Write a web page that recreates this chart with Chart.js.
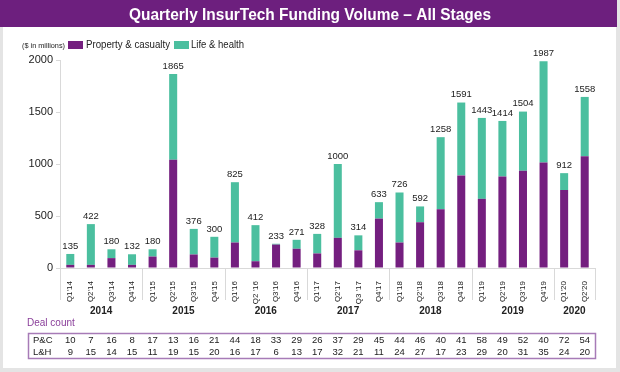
<!DOCTYPE html>
<html>
<head>
<meta charset="utf-8">
<script src="https://cdn.jsdelivr.net/npm/chart.js@4.4.0/dist/chart.umd.min.js"></script>
<style>
  html, body { margin: 0; padding: 0; background: #fff; }
  #wrap { position: relative; width: 620px; height: 372px; }
</style>
</head>
<body>
<div id="wrap"><canvas id="fundingChart" width="620" height="372"></canvas></div>
<script>
// Quarter labels, year groups
const quarters = ["Q1'14", "Q2'14", "Q3'14", "Q4'14", "Q1'15", "Q2'15", "Q3'15", "Q4'15",
  "Q1'16", "Q2 '16", "Q3'16", "Q4'16", "Q1'17", "Q2'17", "Q3 '17", "Q4'17",
  "Q1'18", "Q2'18", "Q3'18", "Q4'18", "Q1'19", "Q2'19", "Q3'19", "Q4'19", "Q1'20", "Q2'20"];
const years = ['2014', '2015', '2016', '2017', '2018', '2019', '2020'];
const quartersPerYear = [4, 4, 4, 4, 4, 4, 2];

// Funding volume ($ in millions)
const pcFunding = [30, 30, 95, 30, 110, 1040, 130, 100, 245, 65, 225, 185, 140, 290, 170, 475,
  245, 440, 565, 890, 665, 880, 935, 1015, 750, 1075];
const lhFunding = [105, 392, 85, 102, 70, 825, 246, 200, 580, 347, 8, 86, 188, 710, 144, 158,
  481, 152, 693, 701, 778, 534, 569, 972, 162, 570];
const totalLabels = [135, 422, 180, 132, 180, 1865, 376, 300, 825, 412, 233, 271, 328, 1000, 314, 633,
  726, 592, 1258, 1591, 1443, 1414, 1504, 1987, 912, 1558];

// Deal count
const pcDeals = [10, 7, 16, 8, 17, 13, 16, 21, 44, 18, 33, 29, 26, 37, 29, 45, 44, 46, 40, 41, 58, 49, 52, 40, 72, 54];
const lhDeals = [9, 15, 14, 15, 11, 19, 15, 20, 16, 17, 6, 13, 17, 32, 21, 11, 24, 27, 17, 23, 29, 20, 31, 35, 24, 20];

const PURPLE = '#741f7f';
const TEAL = '#4bbf9f';
const FONT = '"Liberation Sans", Arial, sans-serif';

// draw text squeezed into a given width if it is wider
function fitText(ctx, text, x, y, maxW) {
  const w = ctx.measureText(text).width;
  ctx.save();
  ctx.translate(x, y);
  ctx.scale(Math.min(1, maxW / w), 1);
  ctx.fillText(text, 0, 0);
  ctx.restore();
}

const extrasPlugin = {
  id: 'extras',
  beforeDraw(chart) {
    const ctx = chart.ctx;
    ctx.save();
    // frame + title bar
    ctx.fillStyle = '#e4e4e4';
    ctx.fillRect(0, 0, 620, 372);
    ctx.fillStyle = '#ffffff';
    ctx.fillRect(3, 27, 613, 341);
    ctx.fillStyle = '#6d1f7e';
    ctx.fillRect(0, 0, 617, 27);

    ctx.font = 'bold 17px "Liberation Sans Narrow", ' + FONT;
    ctx.fillStyle = '#ffffff';
    ctx.textAlign = 'center';
    ctx.textBaseline = 'middle';
    fitText(ctx, 'Quarterly InsurTech Funding Volume \u2013 All Stages', 310, 15, 362);

    // legend
    ctx.textAlign = 'left';
    ctx.fillStyle = '#222';
    ctx.font = '7.5px ' + FONT;
    fitText(ctx, '($ in millions)', 22, 46, 43);
    ctx.fillStyle = PURPLE;
    ctx.fillRect(68, 41, 15, 8);
    ctx.fillStyle = TEAL;
    ctx.fillRect(174, 41, 15, 8);
    ctx.fillStyle = '#222';
    ctx.font = '10px ' + FONT;
    fitText(ctx, 'Property & casualty', 86, 45.5, 84);
    fitText(ctx, 'Life & health', 191, 45.5, 53);
    ctx.restore();
  },
  afterDraw(chart) {
    const ctx = chart.ctx;
    const x = chart.scales.x;
    const area = chart.chartArea;
    const step = x.getPixelForValue(1) - x.getPixelForValue(0);
    ctx.save();

    // totals above bars
    const top = chart.getDatasetMeta(1).data;
    ctx.fillStyle = '#222';
    ctx.font = '9.5px ' + FONT;
    ctx.textAlign = 'center';
    ctx.textBaseline = 'bottom';
    top.forEach((bar, i) => {
      ctx.fillText(String(totalLabels[i]), bar.x, bar.y - 3);
    });

    // year separators and year names
    const bounds = [0];
    quartersPerYear.forEach(n => bounds.push(bounds[bounds.length - 1] + n));
    ctx.strokeStyle = '#d9d9d9';
    ctx.lineWidth = 1;
    bounds.forEach(b => {
      const px = Math.round(x.getPixelForValue(b) - step / 2) + 0.5;
      ctx.beginPath();
      ctx.moveTo(px, area.bottom);
      ctx.lineTo(px, area.bottom + 32);
      ctx.stroke();
    });
    ctx.font = 'bold 10px ' + FONT;
    ctx.textBaseline = 'middle';
    years.forEach((yr, i) => {
      const cx = (x.getPixelForValue(bounds[i]) + x.getPixelForValue(bounds[i + 1] - 1)) / 2;
      ctx.fillText(yr, cx, 311);
    });

    // deal count table
    ctx.fillStyle = '#8a3f9a';
    ctx.font = '10px ' + FONT;
    ctx.textAlign = 'left';
    ctx.fillText('Deal count', 27, 323);
    ctx.strokeStyle = '#a77bb7';
    ctx.lineWidth = 1.5;
    ctx.strokeRect(28.5, 333.5, 567, 25);
    ctx.fillStyle = '#222';
    ctx.font = '9.5px ' + FONT;
    ctx.fillText('P&C', 33, 340);
    ctx.fillText('L&H', 33, 352);
    ctx.textAlign = 'center';
    pcDeals.forEach((v, i) => ctx.fillText(String(v), x.getPixelForValue(i), 340));
    lhDeals.forEach((v, i) => ctx.fillText(String(v), x.getPixelForValue(i), 352));
    ctx.restore();
  }
};

const chart = new Chart(document.getElementById('fundingChart'), {
  type: 'bar',
  data: {
    labels: quarters,
    datasets: [
      {
        label: 'Property & casualty',
        data: pcFunding,
        backgroundColor: PURPLE,
        barPercentage: 0.39,
        categoryPercentage: 1
      },
      {
        label: 'Life & health',
        data: lhFunding,
        backgroundColor: TEAL,
        barPercentage: 0.39,
        categoryPercentage: 1
      }
    ]
  },
  options: {
    responsive: false,
    animation: false,
    devicePixelRatio: 1,
    layout: { padding: { top: 60, right: 25, left: 0, bottom: 0 } },
    plugins: {
      legend: { display: false },
      tooltip: { enabled: false }
    },
    scales: {
      x: {
        stacked: true,
        grid: { display: false, drawTicks: false },
        border: { display: true, color: '#d9d9d9' },
        ticks: {
          autoSkip: false,
          minRotation: 90,
          maxRotation: 90,
          padding: 13,
          color: '#222',
          font: { family: FONT, size: 8 }
        },
        afterFit: s => { s.height = 104; }
      },
      y: {
        stacked: true,
        min: 0,
        max: 2000,
        grid: { drawOnChartArea: false, drawTicks: true, tickLength: 4, color: '#d9d9d9' },
        border: { display: true, color: '#d9d9d9' },
        ticks: {
          stepSize: 500,
          padding: 3,
          color: '#222',
          font: { family: FONT, size: 11 },
          callback: v => String(v)
        },
        afterFit: s => { s.width = 60; }
      }
    }
  },
  plugins: [extrasPlugin]
});
</script>
</body>
</html>
